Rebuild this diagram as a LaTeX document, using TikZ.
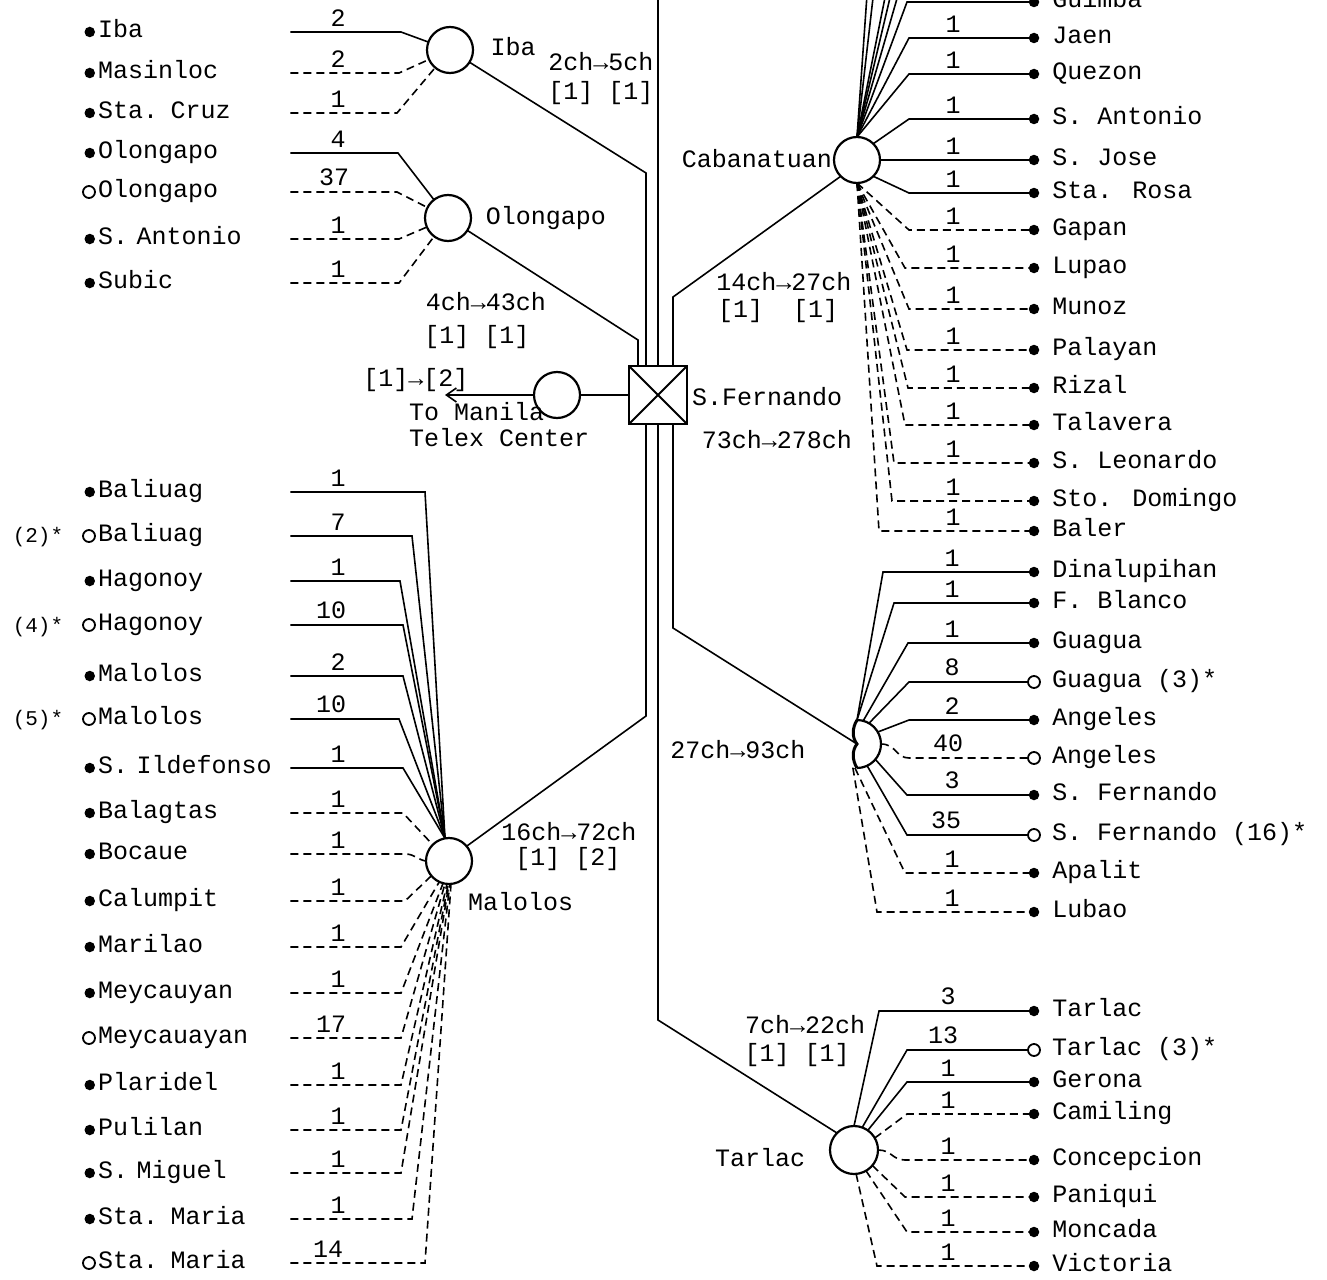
\documentclass[tikz,border=0pt]{standalone}
\usepackage{fontspec}
\setmainfont{Liberation Mono}
\usetikzlibrary{arrows.meta}

\begin{document}
\begin{tikzpicture}[x=1pt,y=-1pt]
		\tikzset{every node/.style={font=\fontsize{25}{30}\selectfont},
			hub/.style={circle,draw,line width=2.2pt,minimum size=46pt,inner sep=0pt,outer sep=0pt},
			exchange/.style={draw,line width=2pt,minimum size=58pt,inner sep=0pt,outer sep=0pt,
				path picture={\draw[line width=2pt] (path picture bounding box.north west) -- (path picture bounding box.south east)
					(path picture bounding box.south west) -- (path picture bounding box.north east);}},
			link/.style={line width=1.6pt},
			dlink/.style={line width=1.6pt,dash pattern=on 8pt off 5pt},
			num/.style={above=4pt,inner sep=1pt},
			fdot/.style={circle,fill,inner sep=0pt,outer sep=0pt,minimum size=10.5pt},
			odot/.style={circle,draw,line width=1.8pt,fill=white,inner sep=0pt,outer sep=0pt,minimum size=12pt},
			lname/.style={anchor=west,inner sep=0pt,text width=192pt,text height=15pt,text depth=4pt},
			rname/.style={anchor=west,inner sep=0pt,text height=15pt,text depth=4pt},
			lstn/.style={lname,label={[fdot,xshift=-3pt]left:}},
			lostn/.style={lname,label={[odot,xshift=-3pt]left:}},
			rstn/.style={fdot,label={[rname,xshift=13pt]right:#1}},
			ostn/.style={odot,label={[rname,xshift=12pt]right:#1}},
			note/.style={font=\fontsize{21}{25}\selectfont}}
		\useasboundingbox (0,0) rectangle (1327,1279);
		\clip (0,0) rectangle (1327,1279);
		
		% hubs
		\node[hub] (iba) at (450,50) {};
		\node[hub] (olongapo) at (448,218) {};
		\node[hub] (cabanatuan) at (857,160) {};
		\node[hub] (manila) at (557,395) {};
		\node[hub] (malolos) at (449,861) {};
		\node[hub,minimum size=48pt] (tarlac) at (854,1150) {};
		\node[circle,minimum size=48pt,inner sep=0pt,outer sep=0pt] (pampanga) at (857,744) {};
		\draw[line width=2.2pt] (pampanga.north) .. controls (870.25,720) and (881,730.75) .. (881,744)
			.. controls (881,757.25) and (870.25,768) .. (pampanga.south);
		\draw[line width=3pt] (pampanga.north) .. controls (852,728) and (852,738) .. (pampanga.center)
			.. controls (852,750) and (852,760) .. (pampanga.south);
		\node[exchange] (exch) at (658,395) {};
		
		% trunk lines
		\coordinate (north trunk) at (658,-10);
		\coordinate (manila arrow) at (445,395);
		\draw[link] (north trunk) -- (exch.north);
		\draw[link] (iba) -- (646,173) |- (exch.north);
		\draw[link] (olongapo) -- (638,340) |- (exch.north);
		\draw[link] (cabanatuan.south west) -- (673,297) |- (exch.north);
		\draw[link] (exch.south) -| (646,716) -- (malolos.40);
		\draw[link] (exch.south) -| (673,628) -- (pampanga.center);
		\draw[link] (exch.south) -- (658,1020) -- (tarlac.north west);
		\draw[link] (exch) -- (manila);
		\draw[link,-{Straight Barb[length=10pt,width=14pt]}] (manila) -- (manila arrow);
		
		% labels of the centres
		\node (iba name) at (513,47) {Iba};
		\node (iba cap) at (601,62) {2ch→5ch};
		\node (iba blk) at (601,93) {[1] [1]};
		\node (olongapo name) at (546,218) {Olongapo};
		\node (olongapo cap) at (486,302) {4ch→43ch};
		\node (olongapo blk) at (477,337) {[1] [1]};
		\node[anchor=east,inner sep=0pt] (cabanatuan name) at (832,159) {Cabanatuan};
		\node (cabanatuan cap) at (784,282) {14ch→27ch};
		\node (cabanatuan blk) at (778,311) {[1]~~[1]};
		\node (manila blk) at (416,380) {[1]→[2]};
		\node[anchor=west,inner sep=0pt] (manila to) at (409,412) {To Manila};
		\node[anchor=west,inner sep=0pt] (manila tc) at (409,438) {Telex Center};
		\node[anchor=west,inner sep=0pt] (exch name) at (692,397) {S.Fernando};
		\node (exch cap) at (777,440) {73ch→278ch};
		\node (pampanga cap) at (738,750) {27ch→93ch};
		\node[inner sep=0pt] (malolos cap) at (569,832) {16ch→72ch};
		\node[inner sep=0pt] (malolos blk) at (568,859) {[1] [2]};
		\node[anchor=west,inner sep=0pt] (malolos name) at (468,902) {Malolos};
		\node (tarlac cap) at (805,1025) {7ch→22ch};
		\node (tarlac blk) at (797,1055) {[1] [1]};
		\node (tarlac name) at (760,1158) {Tarlac};
		
		% Iba and Olongapo
		\node[lstn] (iba st) at (98,32) {Iba};
		\node[lstn] (masinloc) at (98,73) {Masinloc};
		\node[lstn] (sta cruz) at (98,113) {Sta. Cruz};
		\node[lstn] (olongapo st) at (98,153) {Olongapo};
		\node[lostn] (olongapo op) at (98,192) {Olongapo};
		\node[lstn] (s antonio w) at (98,239) {S. Antonio};
		\node[lstn] (subic) at (98,283) {Subic};
		\draw[link] (iba st) -- (338,32) node[num] {2} -- (401,32) -- (iba);
		\draw[dlink] (masinloc) -- (338,73) node[num] {2} -- (399,73) -- (iba);
		\draw[dlink] (sta cruz) -- (338,113) node[num] {1} -- (397,113) -- (iba);
		\draw[link] (olongapo st) -- (338,153) node[num] {4} -- (398,153) -- (olongapo);
		\draw[dlink] (olongapo op) -- (334,192) node[num] {37} -- (397,192) -- (olongapo);
		\draw[dlink] (s antonio w) -- (338,239) node[num] {1} -- (399,239) -- (olongapo);
		\draw[dlink] (subic) -- (338,283) node[num] {1} -- (399,283) -- (olongapo);
		
		% Cabanatuan
		\coordinate (cab up1) at (1034,-36);
		\coordinate (cab up2) at (1034,-74);
		\coordinate (cab up3) at (1034,-112);
		\coordinate (cab up4) at (1034,-150);
		\coordinate (cab up5) at (1034,-190);
		\draw[link] (cabanatuan.north) -- (907,-36) -- (cab up1);
		\draw[link] (cabanatuan.north) -- (907,-74) -- (cab up2);
		\draw[link] (cabanatuan.north) -- (907,-112) -- (cab up3);
		\draw[link] (cabanatuan.north) -- (890,-150) -- (cab up4);
		\draw[link] (cabanatuan.north) -- (880,-190) -- (cab up5);
		\node[rstn=Guimba] (guimba) at (1034,2) {};
		\node[rstn=Jaen] (jaen) at (1034,38) {};
		\node[rstn=Quezon] (quezon) at (1034,74) {};
		\node[rstn={S. Antonio}] (s antonio e) at (1034,119) {};
		\node[rstn={S. Jose}] (s jose) at (1034,160) {};
		\node[rstn={Sta. Rosa}] (sta rosa) at (1034,193) {};
		\node[rstn=Gapan] (gapan) at (1034,230) {};
		\node[rstn=Lupao] (lupao) at (1034,268) {};
		\node[rstn=Munoz] (munoz) at (1034,309) {};
		\node[rstn=Palayan] (palayan) at (1034,350) {};
		\node[rstn=Rizal] (rizal) at (1034,388) {};
		\node[rstn=Talavera] (talavera) at (1034,425) {};
		\node[rstn={S. Leonardo}] (s leonardo) at (1034,463) {};
		\node[rstn={Sto. Domingo}] (sto domingo) at (1034,501) {};
		\node[rstn=Baler] (baler) at (1034,531) {};
		\draw[link] (cabanatuan.north) -- (907,2) -- (953,2) node[num] {1} -- (guimba);
		\draw[link] (cabanatuan.north) -- (909,38) -- (953,38) node[num] {1} -- (jaen);
		\draw[link] (cabanatuan.north) -- (909,74) -- (953,74) node[num] {1} -- (quezon);
		\draw[link] (cabanatuan.north east) -- (909,119) -- (953,119) node[num] {1} -- (s antonio e);
		\draw[link] (cabanatuan.east) -- (953,160) node[num] {1} -- (s jose);
		\draw[link] (cabanatuan.south east) -- (909,193) -- (953,193) node[num] {1} -- (sta rosa);
		\draw[dlink] (cabanatuan.south) -- (909,230) -- (953,230) node[num] {1} -- (gapan);
		\draw[dlink] (cabanatuan.south) -- (905,268) -- (953,268) node[num] {1} -- (lupao);
		\draw[dlink] (cabanatuan.south) -- (909,309) -- (953,309) node[num] {1} -- (munoz);
		\draw[dlink] (cabanatuan.south) -- (907,350) -- (953,350) node[num] {1} -- (palayan);
		\draw[dlink] (cabanatuan.south) -- (908,388) -- (953,388) node[num] {1} -- (rizal);
		\draw[dlink] (cabanatuan.south) -- (905,425) -- (953,425) node[num] {1} -- (talavera);
		\draw[dlink] (cabanatuan.south) -- (894,463) -- (953,463) node[num] {1} -- (s leonardo);
		\draw[dlink] (cabanatuan.south) -- (892,501) -- (953,501) node[num] {1} -- (sto domingo);
		\draw[dlink] (cabanatuan.south) -- (879,531) -- (953,531) node[num] {1} -- (baler);
		
		% S. Fernando (Pampanga)
		\node[rstn=Dinalupihan] (dinalupihan) at (1034,572) {};
		\node[rstn={F. Blanco}] (f blanco) at (1034,603) {};
		\node[rstn=Guagua] (guagua) at (1034,643) {};
		\node[ostn={Guagua (3)*}] (guagua op) at (1034,682) {};
		\node[rstn=Angeles] (angeles) at (1034,720) {};
		\node[ostn=Angeles] (angeles op) at (1034,758) {};
		\node[rstn={S. Fernando}] (s fernando st) at (1034,795) {};
		\node[ostn={S. Fernando (16)*}] (s fernando op) at (1034,835) {};
		\node[rstn=Apalit] (apalit) at (1034,873) {};
		\node[rstn=Lubao] (lubao) at (1034,912) {};
		\draw[link] (pampanga.north) -- (883,572) -- (952,572) node[num] {1} -- (dinalupihan);
		\draw[link] (pampanga.north) -- (894,603) -- (952,603) node[num] {1} -- (f blanco);
		\draw[link] (pampanga.75) -- (908,643) -- (952,643) node[num] {1} -- (guagua);
		\draw[link] (pampanga.60) -- (909,682) -- (952,682) node[num] {8} -- (guagua op);
		\draw[link] (pampanga.30) -- (909,720) -- (952,720) node[num] {2} -- (angeles);
		\draw[dlink] (pampanga.east) .. controls (896,744) and (896,758) .. (909,758) -- (948,758) node[num] {40} -- (angeles op);
		\draw[link] (pampanga.-40) -- (907,795) -- (952,795) node[num] {3} -- (s fernando st);
		\draw[link] (pampanga.-65) -- (907,835) -- (946,835) node[num] {35} -- (s fernando op);
		\draw[dlink] (pampanga.-95) -- (905,873) -- (952,873) node[num] {1} -- (apalit);
		\draw[dlink] (pampanga.-100) -- (877,912) -- (952,912) node[num] {1} -- (lubao);
		
		% Tarlac
		\node[rstn=Tarlac] (tarlac st) at (1034,1011) {};
		\node[ostn={Tarlac (3)*}] (tarlac op) at (1034,1050) {};
		\node[rstn=Gerona] (gerona) at (1034,1082) {};
		\node[rstn=Camiling] (camiling) at (1034,1114) {};
		\node[rstn=Concepcion] (concepcion) at (1034,1160) {};
		\node[rstn=Paniqui] (paniqui) at (1034,1197) {};
		\node[rstn=Moncada] (moncada) at (1034,1232) {};
		\node[rstn=Victoria] (victoria) at (1034,1266) {};
		\draw[link] (tarlac.north) -- (879,1011) -- (948,1011) node[num] {3} -- (tarlac st);
		\draw[link] (tarlac.70) -- (907,1050) -- (943,1050) node[num] {13} -- (tarlac op);
		\draw[link] (tarlac.55) -- (907,1082) -- (948,1082) node[num] {1} -- (gerona);
		\draw[dlink] (tarlac.30) -- (907,1114) -- (948,1114) node[num] {1} -- (camiling);
		\draw[dlink] (tarlac.east) .. controls (892,1150) and (892,1160) .. (905,1160) -- (948,1160) node[num] {1} -- (concepcion);
		\draw[dlink] (tarlac.-40) -- (905,1197) -- (948,1197) node[num] {1} -- (paniqui);
		\draw[dlink] (tarlac.-60) -- (907,1232) -- (948,1232) node[num] {1} -- (moncada);
		\draw[dlink] (tarlac.-85) -- (877,1266) -- (948,1266) node[num] {1} -- (victoria);
		
		% Malolos
		\node[lstn] (baliuag) at (98,492) {Baliuag};
		\node[lostn] (baliuag op) at (98,536) {Baliuag};
		\node[lstn] (hagonoy) at (98,581) {Hagonoy};
		\node[lostn] (hagonoy op) at (98,625) {Hagonoy};
		\node[lstn] (malolos st) at (98,676) {Malolos};
		\node[lostn] (malolos op) at (98,719) {Malolos};
		\node[lstn] (s ildefonso) at (98,768) {S. Ildefonso};
		\node[lstn] (balagtas) at (98,813) {Balagtas};
		\node[lstn] (bocaue) at (98,854) {Bocaue};
		\node[lstn] (calumpit) at (98,901) {Calumpit};
		\node[lstn] (marilao) at (98,947) {Marilao};
		\node[lstn] (meycauyan) at (98,993) {Meycauyan};
		\node[lostn] (meycauayan op) at (98,1038) {Meycauayan};
		\node[lstn] (plaridel) at (98,1085) {Plaridel};
		\node[lstn] (pulilan) at (98,1130) {Pulilan};
		\node[lstn] (s miguel) at (98,1173) {S. Miguel};
		\node[lstn] (sta maria) at (98,1219) {Sta. Maria};
		\node[lostn] (sta maria op) at (98,1263) {Sta. Maria};
		\node[note] (note baliuag) at (38,537) {(2)*};
		\node[note] (note hagonoy) at (38,627) {(4)*};
		\node[note] (note malolos) at (38,720) {(5)*};
		\draw[link] (baliuag) -- (338,492) node[num] {1} -- (425,492) -- (malolos.100);
		\draw[link] (baliuag op) -- (338,536) node[num] {7} -- (412,536) -- (malolos.100);
		\draw[link] (hagonoy) -- (338,581) node[num] {1} -- (400,581) -- (malolos.100);
		\draw[link] (hagonoy op) -- (331,625) node[num] {10} -- (403,625) -- (malolos.100);
		\draw[link] (malolos st) -- (338,676) node[num] {2} -- (403,676) -- (malolos.100);
		\draw[link] (malolos op) -- (331,719) node[num] {10} -- (399,719) -- (malolos.100);
		\draw[link] (s ildefonso) -- (338,768) node[num] {1} -- (403,768) -- (malolos.100);
		\draw[dlink] (balagtas) -- (338,813) node[num] {1} -- (403,813) -- (malolos.135);
		\draw[dlink] (bocaue) -- (338,854) node[num] {1} -- (405,854) .. controls (415,854) and (418,860) .. (malolos.west);
		\draw[dlink] (calumpit) -- (338,901) node[num] {1} -- (405,901) -- (malolos.-140);
		\draw[dlink] (marilao) -- (338,947) node[num] {1} -- (401,947) -- (malolos.-115);
		\draw[dlink] (meycauyan) -- (338,993) node[num] {1} -- (401,993) -- (malolos.-105);
		\draw[dlink] (meycauayan op) -- (331,1038) node[num] {17} -- (401,1038) -- (malolos.-100);
		\draw[dlink] (plaridel) -- (338,1085) node[num] {1} -- (401,1085) -- (malolos.-95);
		\draw[dlink] (pulilan) -- (338,1130) node[num] {1} -- (401,1130) -- (malolos.-92);
		\draw[dlink] (s miguel) -- (338,1173) node[num] {1} -- (401,1173) -- (malolos.-90);
		\draw[dlink] (sta maria) -- (338,1219) node[num] {1} -- (412,1219) -- (malolos.-88);
		\draw[dlink] (sta maria op) -- (328,1263) node[num] {14} -- (425,1263) -- (malolos.-85);
		
	\end{tikzpicture}
\end{document}
